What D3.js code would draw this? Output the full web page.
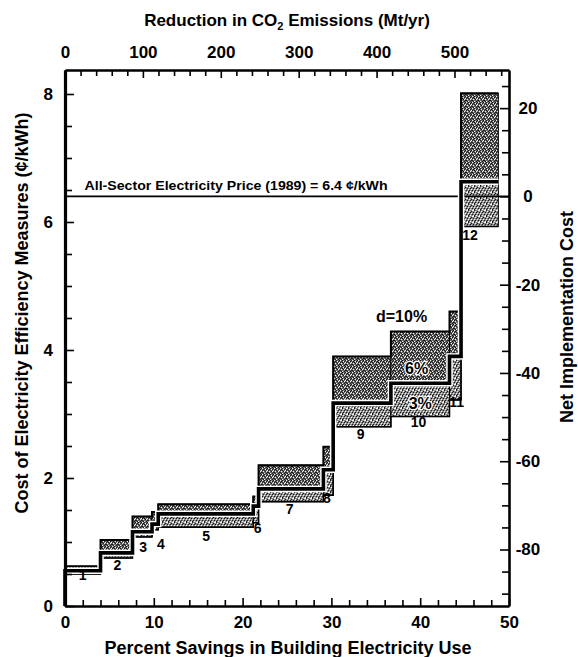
<!DOCTYPE html>
<html>
<head>
<meta charset="utf-8">
<script src="https://d3js.org/d3.v7.min.js"></script>
<style>
body { margin: 0; background: #fff; }
svg text { font-family: "Liberation Sans", Arial, Helvetica, sans-serif; font-weight: bold; fill: #000; }
</style>
</head>
<body>
<script>
// measures along the supply curve
var measures = ["1", "2", "3", "4", "5", "6", "7", "8", "9", "10", "11", "12"];
var savingsWidth = [4.0, 3.6, 2.2, 0.7, 10.7, 0.6, 7.3, 1.1, 6.5, 6.6, 1.3, 4.2];
// cost of saved electricity (cents/kWh) at three discount rates
var cost3 = [0.50, 0.75, 1.08, 1.19, 1.23, 1.30, 1.63, 1.73, 2.80, 2.96, 3.22, 5.93];
var cost6 = [0.55, 0.83, 1.16, 1.28, 1.44, 1.56, 1.83, 2.13, 3.17, 3.48, 3.90, 6.63];
var cost10 = [0.62, 1.03, 1.40, 1.47, 1.59, 1.71, 2.20, 2.49, 3.90, 4.29, 4.60, 8.01];
// where the measure numbers sit (percent savings, cents/kWh)
var labelX = [2.0, 5.9, 8.8, 10.8, 15.9, 21.7, 25.3, 29.5, 33.3, 39.8, 44.1, 45.6];
var labelY = [0.48, 0.64, 0.92, 0.97, 1.09, 1.22, 1.52, 1.69, 2.69, 2.88, 3.19, 5.80];

var discountLabels = ["d=10%", "6%", "3%"];
var discountX = [37.9, 39.6, 40.0];
var discountY = [4.52, 3.72, 3.17];

var price = 6.4;
var priceLabel = "All-Sector Electricity Price (1989) = 6.4 \u00a2/kWh";
var netPerCent = 14.5;   // net implementation cost units per cent/kWh

var savingsTicks = d3.range(0, 51, 2);
var savingsLabels = [0, 10, 20, 30, 40, 50];
var costTicks = d3.range(0, 8.01, 0.5);
var costLabels = [0, 2, 4, 6, 8];
var co2Ticks = d3.range(0, 561, 20);
var co2Labels = [0, 100, 200, 300, 400, 500];
var netTicks = d3.range(-90, 26, 5);
var netLabels = [20, 0, -20, -40, -60, -80];

var width = 578, height = 657;
var plotLeft = 65, plotRight = 509, plotTop = 70, plotBottom = 606;
var costMax = 8.375;

var x = d3.scaleLinear().domain([0, 50]).range([plotLeft, plotRight]);
var co2 = d3.scaleLinear().domain([0, 570]).range([plotLeft, plotRight]);
var y = d3.scaleLinear().domain([0, costMax]).range([plotBottom, plotTop]);
var net = d3.scaleLinear().domain([-price * netPerCent, (costMax - price) * netPerCent]).range([plotBottom, plotTop]);

var starts = [];
var acc = 0;
savingsWidth.forEach(function(w) { starts.push(acc); acc += w; });
var ends = starts.map(function(s, i) { return s + savingsWidth[i]; });

var rows = measures.map(function(m, i) {
    return {name: m, x0: starts[i], x1: ends[i], c3: cost3[i], c6: cost6[i], c10: cost10[i], lx: labelX[i], ly: labelY[i]};
});

var svg = d3.select("body").append("svg").attr("width", width).attr("height", height);

// stipple patterns (halftone look of the printed original)
var defs = svg.append("defs");
var makePattern = function(id, base, darkDots, lightDots) {
    var p = defs.append("pattern").attr("id", id).attr("patternUnits", "userSpaceOnUse")
        .attr("width", 6).attr("height", 6);
    p.append("rect").attr("width", 6).attr("height", 6).attr("fill", base);
    darkDots.forEach(function(d) { p.append("rect").attr("x", d[0]).attr("y", d[1]).attr("width", 1).attr("height", 1).attr("fill", "#1a1a1a"); });
    lightDots.forEach(function(d) { p.append("rect").attr("x", d[0]).attr("y", d[1]).attr("width", 1).attr("height", 1).attr("fill", "#f4f4f4"); });
};
makePattern("upper", "#6c6c6c",
    [[0,0],[2,1],[5,1],[4,2],[1,3],[3,4],[3,0],[0,2],[5,5],[2,5],[4,4]],
    [[1,1],[4,0],[2,3],[5,3],[0,5],[3,2]]);
makePattern("lower", "#8c8c8c",
    [[0,0],[2,2],[4,4],[3,1],[1,4],[5,2],[0,5]],
    [[1,1],[3,3],[4,0],[0,3],[5,5],[2,5],[5,0]]);

// bands
svg.append("g").selectAll("rect").data(rows).enter().append("rect")
    .attr("x", function(d) { return x(d.x0); })
    .attr("width", function(d) { return x(d.x1) - x(d.x0); })
    .attr("y", function(d) { return y(d.c10); })
    .attr("height", function(d) { return y(d.c6) - y(d.c10); })
    .attr("fill", "url(#upper)").attr("stroke", "#000").attr("stroke-width", 1);

svg.append("g").selectAll("rect").data(rows).enter().append("rect")
    .attr("x", function(d) { return x(d.x0); })
    .attr("width", function(d) { return x(d.x1) - x(d.x0); })
    .attr("y", function(d) { return y(d.c6); })
    .attr("height", function(d) { return y(d.c3) - y(d.c6); })
    .attr("fill", "url(#lower)").attr("stroke", "#000").attr("stroke-width", 1);

// price line
svg.append("line").attr("x1", x(0)).attr("x2", x(50)).attr("y1", y(price)).attr("y2", y(price))
    .attr("stroke", "#000").attr("stroke-width", 1.6);
svg.append("text").attr("x", x(2.2)).attr("y", y(price) - 6)
    .attr("font-size", 13).attr("textLength", 303).attr("lengthAdjust", "spacingAndGlyphs")
    .text(priceLabel);

// step curves
var stepLine = d3.line().x(function(d) { return x(d[0]); }).y(function(d) { return y(d[1]); }).curve(d3.curveStepAfter);
var stepPoints = function(costs, fromZero) {
    var pts = starts.map(function(s, i) { return [s, costs[i]]; });
    pts.push([ends[ends.length - 1], costs[costs.length - 1]]);
    if (fromZero) pts.unshift([0, 0]);
    return pts;
};
svg.append("path").attr("d", stepLine(stepPoints(cost10, false))).attr("fill", "none").attr("stroke", "#000").attr("stroke-width", 2);
svg.append("path").attr("d", stepLine(stepPoints(cost3, false))).attr("fill", "none").attr("stroke", "#000").attr("stroke-width", 1.5);
svg.append("path").attr("d", stepLine(stepPoints(cost6, true))).attr("fill", "none").attr("stroke", "#fff").attr("stroke-width", 6.5);
svg.append("path").attr("d", stepLine(stepPoints(cost6, true))).attr("fill", "none").attr("stroke", "#000").attr("stroke-width", 3.6);

// measure numbers
svg.append("g").selectAll("text").data(rows).enter().append("text")
    .attr("x", function(d) { return x(d.lx); })
    .attr("y", function(d) { return y(d.ly); })
    .attr("dy", "0.36em").attr("text-anchor", "middle").attr("font-size", 14)
    .text(function(d) { return d.name; });

// discount rate labels
svg.append("g").selectAll("text").data(discountLabels).enter().append("text")
    .attr("x", function(d, i) { return x(discountX[i]); })
    .attr("y", function(d, i) { return y(discountY[i]); })
    .attr("dy", "0.36em").attr("text-anchor", "middle").attr("font-size", 16)
    .attr("stroke", function(d, i) { return i > 0 ? "#fff" : "none"; }).attr("stroke-width", 2.5)
    .attr("paint-order", "stroke")
    .text(function(d) { return d; });

// axes
var styleAxis = function(g, labels) {
    g.select(".domain").attr("stroke-width", 2.6);
    g.selectAll(".tick line").attr("stroke-width", 1.6);
    g.selectAll(".tick text").attr("font-size", 17);
    g.selectAll(".tick").each(function(d) {
        if (labels.indexOf(d) < 0) d3.select(this).select("text").remove();
    });
};
var fmtFor = function(labels) { return function(d) { return labels.indexOf(d) >= 0 ? d : ""; }; };

var gBottom = svg.append("g").attr("transform", "translate(0," + plotBottom + ")")
    .call(d3.axisBottom(x).tickValues(savingsTicks).tickFormat(fmtFor(savingsLabels)).tickSizeInner(-6).tickSizeOuter(0).tickPadding(10));
styleAxis(gBottom, savingsLabels);
gBottom.selectAll(".tick").filter(function(d) { return savingsLabels.indexOf(d) >= 0; }).select("line").attr("y2", -8);

var gTop = svg.append("g").attr("transform", "translate(0," + plotTop + ")")
    .call(d3.axisTop(co2).tickValues(co2Ticks).tickFormat(fmtFor(co2Labels)).tickSizeInner(-6).tickSizeOuter(0).tickPadding(12));
styleAxis(gTop, co2Labels);
gTop.selectAll(".tick").filter(function(d) { return co2Labels.indexOf(d) >= 0; }).select("line").attr("y2", 8);

var gLeft = svg.append("g").attr("transform", "translate(" + plotLeft + ",0)")
    .call(d3.axisLeft(y).tickValues(costTicks).tickFormat(fmtFor(costLabels)).tickSizeInner(-7).tickSizeOuter(0).tickPadding(12));
styleAxis(gLeft, costLabels);
gLeft.selectAll(".tick").filter(function(d) { return costLabels.indexOf(d) >= 0; }).select("line").attr("x2", 9);
gLeft.select(".domain").attr("stroke-width", 3.2);

var gRight = svg.append("g").attr("transform", "translate(" + plotRight + ",0)")
    .call(d3.axisRight(net).tickValues(netTicks).tickFormat(fmtFor(netLabels)).tickSizeInner(-7).tickSizeOuter(0).tickPadding(19));
styleAxis(gRight, netLabels);
gRight.selectAll(".tick text").attr("text-anchor", "middle");
gRight.selectAll(".tick").filter(function(d) { return netLabels.indexOf(d) >= 0; }).select("line").attr("x2", -9);

// titles
var topTitle = svg.append("text").attr("x", 287).attr("y", 26).attr("text-anchor", "middle").attr("font-size", 17);
topTitle.append("tspan").text("Reduction in CO");
topTitle.append("tspan").attr("font-size", 11).attr("dy", 4).text("2");
topTitle.append("tspan").attr("dy", -4).text(" Emissions (Mt/yr)");

svg.append("text").attr("x", 288).attr("y", 654).attr("text-anchor", "middle").attr("font-size", 18)
    .text("Percent Savings in Building Electricity Use");

svg.append("text").attr("transform", "translate(28,313) rotate(-90)").attr("text-anchor", "middle").attr("font-size", 18)
    .text("Cost of Electricity Efficiency Measures (\u00a2/kWh)");

svg.append("text").attr("transform", "translate(573,317) rotate(-90)").attr("text-anchor", "middle").attr("font-size", 18)
    .text("Net Implementation Cost");
</script>
</body>
</html>
